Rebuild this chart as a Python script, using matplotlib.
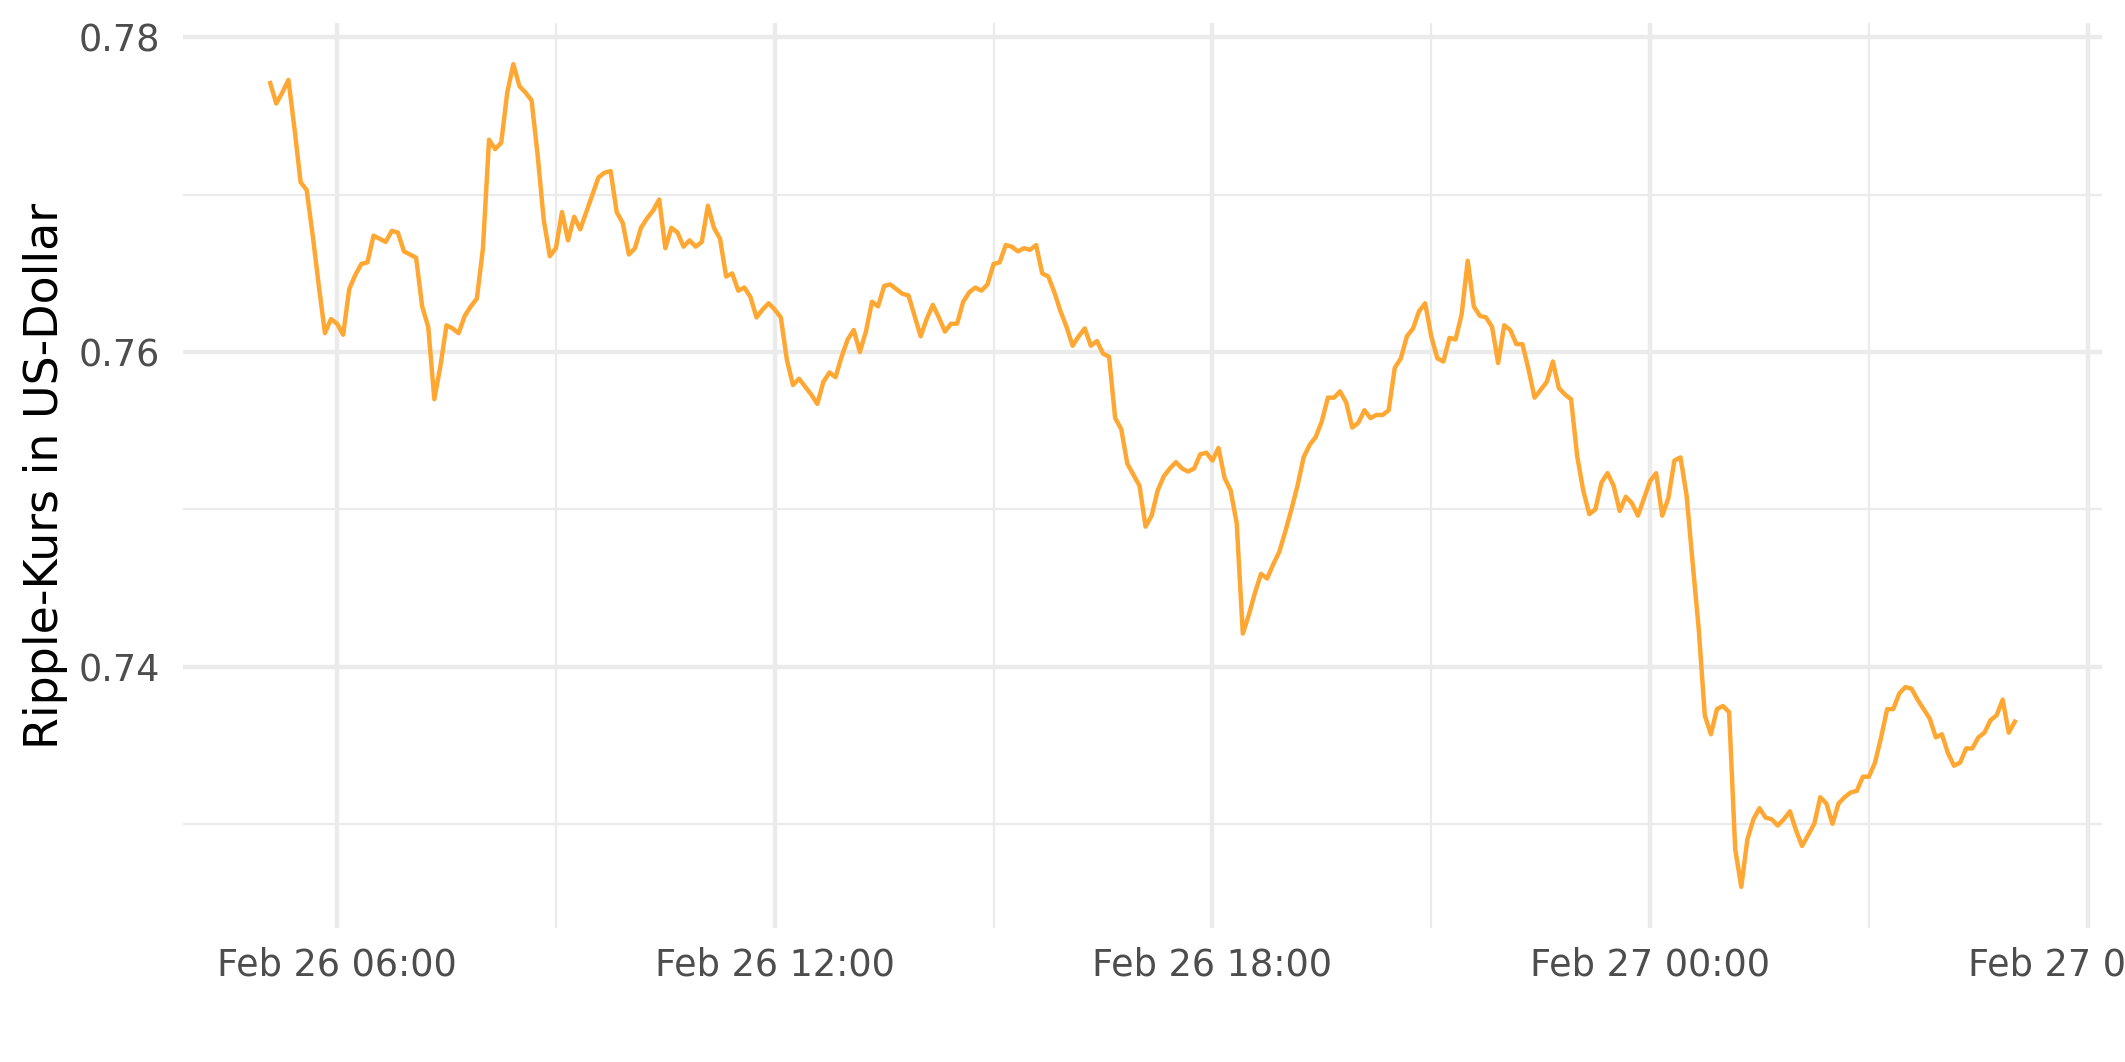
import matplotlib
matplotlib.use("Agg")
import matplotlib.pyplot as plt
import matplotlib.dates as mdates
from matplotlib.ticker import FixedLocator, FormatStrFormatter
import pandas as pd

# Ripple (XRP) in USD, 5-minute steps from Feb 26 05:05 to Feb 27 05:00
start = "2022-02-26 05:05"
kurs = [
    0.7771, 0.7758, 0.7765, 0.7773, 0.7742, 0.7708, 0.7703, 0.7674, 0.7642, 0.7612,
    0.7621, 0.7618, 0.7611, 0.7640, 0.7649, 0.7656, 0.7657, 0.7674, 0.7672, 0.7670,
    0.7677, 0.7676, 0.7664, 0.7662, 0.7660, 0.7629, 0.7616, 0.7570, 0.7591, 0.7617,
    0.7615, 0.7612, 0.7623, 0.7629, 0.7634, 0.7666, 0.7735, 0.7729, 0.7733, 0.7765,
    0.7783, 0.7769, 0.7765, 0.7760, 0.7725, 0.7684, 0.7661, 0.7666, 0.7689, 0.7671,
    0.7686, 0.7678, 0.7689, 0.7700, 0.7711, 0.7714, 0.7715, 0.7689, 0.7682, 0.7662,
    0.7666, 0.7679, 0.7685, 0.7690, 0.7697, 0.7666, 0.7679, 0.7676, 0.7667, 0.7671,
    0.7667, 0.7670, 0.7693, 0.7679, 0.7672, 0.7648, 0.7650, 0.7639, 0.7641, 0.7635,
    0.7622, 0.7627, 0.7631, 0.7627, 0.7622, 0.7595, 0.7579, 0.7583, 0.7578, 0.7573,
    0.7567, 0.7581, 0.7587, 0.7584, 0.7597, 0.7608, 0.7614, 0.7600, 0.7613, 0.7632,
    0.7629, 0.7642, 0.7643, 0.7640, 0.7637, 0.7636, 0.7623, 0.7610, 0.7621, 0.7630,
    0.7622, 0.7613, 0.7618, 0.7618, 0.7632, 0.7638, 0.7641, 0.7639, 0.7643, 0.7656,
    0.7657, 0.7668, 0.7667, 0.7664, 0.7666, 0.7665, 0.7668, 0.7650, 0.7648, 0.7638,
    0.7626, 0.7616, 0.7604, 0.7610, 0.7615, 0.7604, 0.7607, 0.7599, 0.7597, 0.7558,
    0.7551, 0.7529, 0.7522, 0.7515, 0.7489, 0.7496, 0.7512, 0.7521, 0.7526, 0.7530,
    0.7526, 0.7524, 0.7526, 0.7535, 0.7536, 0.7531, 0.7539, 0.7520, 0.7512, 0.7491,
    0.7421, 0.7433, 0.7447, 0.7459, 0.7456, 0.7465, 0.7473, 0.7486, 0.7500, 0.7515,
    0.7533, 0.7541, 0.7546, 0.7556, 0.7571, 0.7571, 0.7575, 0.7568, 0.7552, 0.7555,
    0.7563, 0.7558, 0.7560, 0.7560, 0.7563, 0.7590, 0.7596, 0.7610, 0.7615, 0.7626,
    0.7631, 0.7610, 0.7596, 0.7594, 0.7609, 0.7608, 0.7624, 0.7658, 0.7629, 0.7623,
    0.7622, 0.7616, 0.7593, 0.7617, 0.7614, 0.7605, 0.7605, 0.7589, 0.7571, 0.7576,
    0.7581, 0.7594, 0.7577, 0.7573, 0.7570, 0.7534, 0.7512, 0.7497, 0.7500, 0.7517,
    0.7523, 0.7515, 0.7499, 0.7508, 0.7504, 0.7496, 0.7507, 0.7518, 0.7523, 0.7496,
    0.7507, 0.7531, 0.7533, 0.7509, 0.7466, 0.7424, 0.7369, 0.7357, 0.7373, 0.7375,
    0.7371, 0.7284, 0.7260, 0.7290, 0.7303, 0.7310, 0.7304, 0.7303, 0.7299, 0.7303,
    0.7308, 0.7296, 0.7286, 0.7293, 0.7300, 0.7317, 0.7313, 0.7300, 0.7313, 0.7317,
    0.7320, 0.7321, 0.7330, 0.7330, 0.7339, 0.7355, 0.7373, 0.7373, 0.7383, 0.7387,
    0.7386, 0.7379, 0.7373, 0.7367, 0.7355, 0.7357, 0.7345, 0.7337, 0.7339, 0.7348,
    0.7348, 0.7355, 0.7358, 0.7366, 0.7369, 0.7379, 0.7358, 0.7365,
]
zeit = pd.date_range(start, periods=len(kurs), freq="5min")

y_major = [0.74, 0.76, 0.78]
y_minor = [0.73, 0.75, 0.77]

fig = plt.figure(figsize=(10.625, 5.31), dpi=200)
ax = fig.add_axes([0.0861, 0.1262, 0.9031, 0.8521])

ax.plot(zeit, kurs, color="#FFA733", linewidth=1.6, zorder=3)

# ggplot-style 5% expansion
t0, t1 = mdates.date2num(zeit[0]), mdates.date2num(zeit[-1])
dx = (t1 - t0) * 0.05
ax.set_xlim(t0 - dx, t1 + dx)
lo, hi = min(kurs), max(kurs)
dy = (hi - lo) * 0.05
ax.set_ylim(lo - dy, hi + dy)

ax.xaxis.set_major_locator(mdates.HourLocator(byhour=[0, 6, 12, 18]))
ax.xaxis.set_minor_locator(mdates.HourLocator(byhour=[3, 9, 15, 21]))
ax.xaxis.set_major_formatter(mdates.DateFormatter("%b %d %H:%M"))
ax.yaxis.set_major_locator(FixedLocator(y_major))
ax.yaxis.set_minor_locator(FixedLocator(y_minor))
ax.yaxis.set_major_formatter(FormatStrFormatter("%.2f"))

ax.grid(which="major", color="#EBEBEB", linewidth=1.6)
ax.grid(which="minor", color="#EBEBEB", linewidth=0.8)
ax.set_axisbelow(True)
for s in ax.spines.values():
    s.set_visible(False)

ax.tick_params(which="both", length=0, labelsize=13.2, colors="#4D4D4D")
ax.tick_params(axis="x", pad=6.5)
ax.tick_params(axis="y", pad=8.3)

ax.set_ylabel("Ripple-Kurs in US-Dollar", fontsize=16.5, color="black")
ax.yaxis.set_label_coords(-0.060, 0.5)

fig.savefig("out.png", dpi=200)
